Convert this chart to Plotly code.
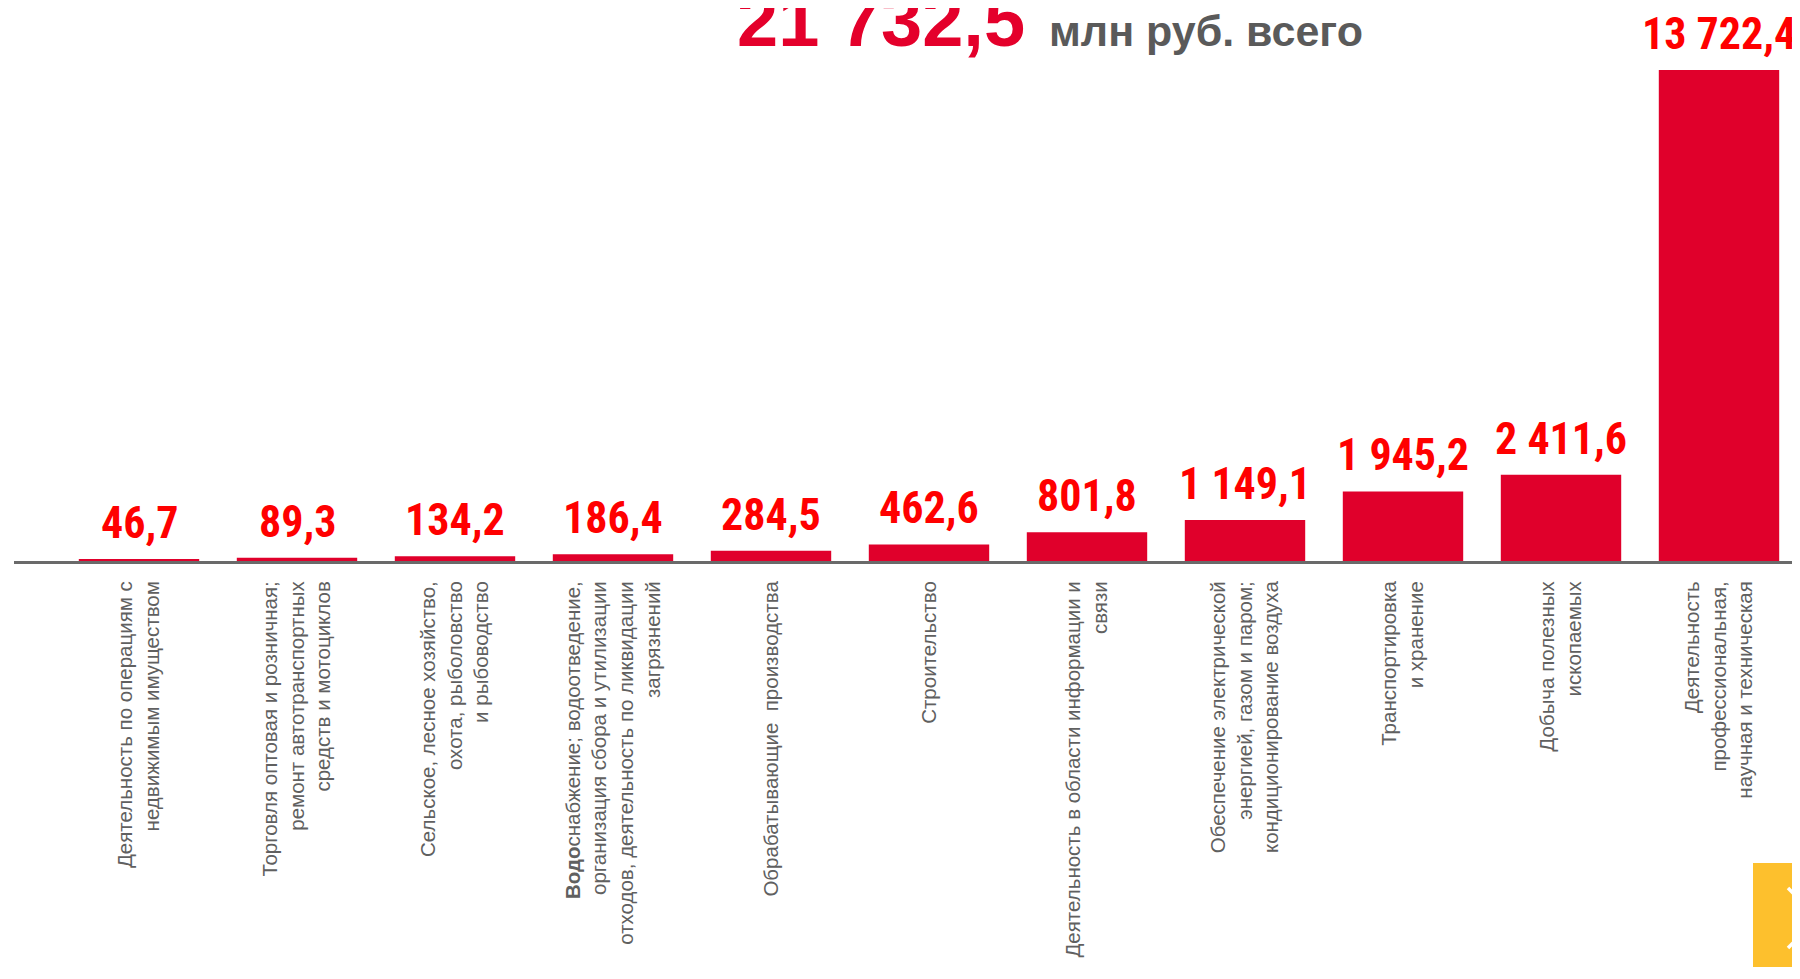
import plotly.graph_objects as go

categories = [
    "Деятельность по операциям с<br>недвижимым имуществом",
    "Торговля оптовая и розничная;<br>ремонт автотранспортных<br>средств и мотоциклов",
    "Сельское, лесное хозяйство,<br>охота, рыболовство<br>и рыбоводство",
    "<b>Водо</b>снабжение; водоотведение,<br>организация сбора и утилизации<br>отходов, деятельность по ликвидации<br>загрязнений",
    "Обрабатывающие  производства",
    "Строительство",
    "Деятельность в области информации и<br>связи",
    "Обеспечение электрической<br>энергией, газом и паром;<br>кондиционирование воздуха",
    "Транспортировка<br>и хранение",
    "Добыча полезных<br>ископаемых",
    "Деятельность<br>профессиональная,<br>научная и техническая",
]
values = [46.7, 89.3, 134.2, 186.4, 284.5, 462.6, 801.8, 1149.1, 1945.2, 2411.6, 13722.4]
total_text = "21 732,5"
total_unit = "млн руб. всего"


def fmt(v):
    s = f"{v:,.1f}"
    return s.replace(",", " ").replace(".", ",")


BAR = "#E0002B"
RED = "#FF0000"
GRAY = "#606060"

# page body has an 8px margin; figure is sized to fit the 1800x979 window
OFF = 8
W, H = 1784, 963
AXIS_Y = 561 - OFF          # axis line (figure pixels)
L, R, T = 14 - OFF, 0, 20 - OFF
B = H - AXIS_Y
pw, ph = W - L - R, H - T - B
px_per_unit = 491 / 13722.4
ymax = ph / px_per_unit
slot = 158.0
x_lo = -(139 - OFF - L) / slot
x_hi = x_lo + pw / slot


def xp(sx):
    return (sx - OFF - L) / pw


def yp(sy):
    return (H - B - (sy - OFF)) / ph


fig = go.Figure(
    go.Bar(
        x=categories,
        y=values,
        marker=dict(color=BAR, line=dict(width=0)),
        width=0.762,
        hoverinfo="skip",
    )
)

cond = "Roboto Condensed, Open Sans Condensed, Roboto, sans-serif"
sans = "Liberation Sans, Arial, sans-serif"

annotations = []
for c, v in zip(categories, values):
    annotations.append(dict(
        x=c, y=v, xref="x", yref="y", text=fmt(v), showarrow=False,
        xanchor="center", yanchor="bottom", yshift=8,
        font=dict(family=cond, size=44, color=RED, weight="bold"),
    ))

annotations.append(dict(
    x=xp(735), y=yp(47 + 17), xref="paper", yref="paper", text=total_text,
    showarrow=False, xanchor="left", yanchor="bottom",
    font=dict(family=sans, size=74, color="#E4002B", weight="bold"),
))
annotations.append(dict(
    x=xp(1047), y=yp(47 + 10), xref="paper", yref="paper", text=total_unit,
    showarrow=False, xanchor="left", yanchor="bottom",
    font=dict(family=sans, size=43, color="#5A5A5A", weight="bold"),
))

shapes = [
    dict(type="rect", xref="paper", yref="paper",
         x0=xp(1753), x1=xp(1815), y0=yp(967), y1=yp(863),
         fillcolor="#FDC02D", line=dict(width=0), layer="above"),
    dict(type="path", xref="paper", yref="paper",
         path=f"M {xp(1788)} {yp(888)} L {xp(1818)} {yp(918)} L {xp(1788)} {yp(948)}",
         line=dict(color="white", width=3.5), layer="above"),
]

fig.update_layout(
    width=W, height=H,
    margin=dict(l=L, r=R, t=T, b=B, pad=0),
    paper_bgcolor="white", plot_bgcolor="white",
    showlegend=False,
    annotations=annotations,
    shapes=shapes,
    xaxis=dict(
        type="category",
        range=[x_lo, x_hi],
        showgrid=False, zeroline=False,
        showline=True, linecolor="#6A6A6A", linewidth=3,
        ticks="", tickangle=-90,
        ticklabelstandoff=9,
        tickfont=dict(family=sans, size=20.5, color=GRAY),
    ),
    yaxis=dict(
        range=[0, ymax], visible=False, showgrid=False, zeroline=False,
    ),
)

fig.write_html("out.html")
